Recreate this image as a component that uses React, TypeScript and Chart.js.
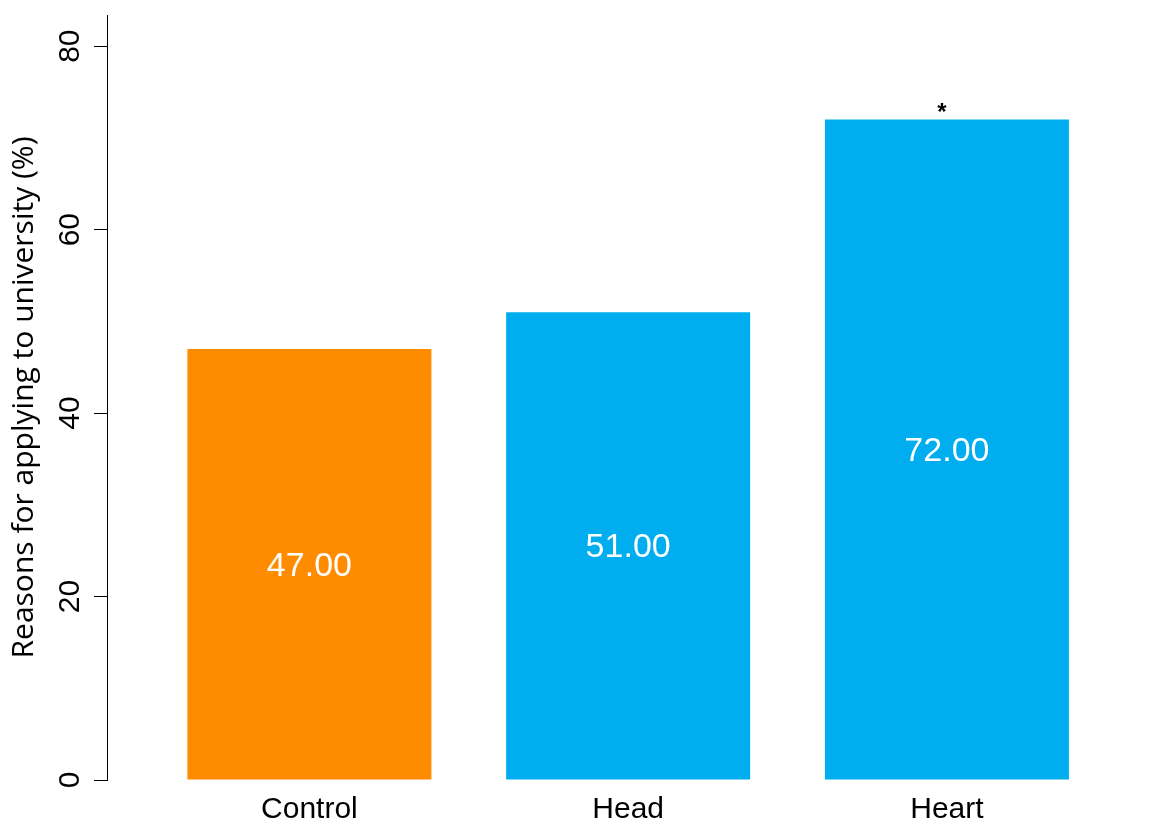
import React, { useEffect, useRef } from 'react';
import { Chart, registerables } from 'chart.js';

Chart.register(...registerables);

const categories = ['Control', 'Head', 'Heart'];
const values = [47, 51, 72];
const barColors = ['#FF8C00', '#00AEEF', '#00AEEF'];
const significance = ['', '', '*'];
const yTickValues = [0, 20, 40, 60, 80];
const yTitle = 'Reasons for applying to university (%)';

const labelPlugin = {
  id: 'barLabels',
  afterDatasetsDraw(chart: any) {
    const ctx = chart.ctx;
    const meta = chart.getDatasetMeta(0);
    ctx.save();
    meta.data.forEach((el: any, i: number) => {
      ctx.fillStyle = '#FFFFFF';
      ctx.font = '34px "Liberation Sans", Arial, sans-serif';
      ctx.textAlign = 'center';
      ctx.textBaseline = 'middle';
      ctx.fillText(values[i].toFixed(2), el.x, (el.y + el.base) / 2 + 2);
      if (significance[i]) {
        ctx.fillStyle = '#000000';
        ctx.font = 'bold 24px "Liberation Sans", Arial, sans-serif';
        ctx.textBaseline = 'alphabetic';
        ctx.fillText(significance[i], el.x - 5, el.y);
      }
    });
    ctx.restore();
  },
};

export default function App() {
  const ref = useRef<HTMLCanvasElement | null>(null);

  useEffect(() => {
    document.body.style.margin = '0';
    const canvas = ref.current;
    if (!canvas) return;
    const chart = new Chart(canvas, {
      type: 'bar',
      data: {
        datasets: [
          {
            data: values.map((v, i) => ({ x: i, y: v })),
            backgroundColor: barColors,
            borderWidth: 0,
            barPercentage: 0.7655,
            categoryPercentage: 1,
          },
        ],
      },
      options: {
        responsive: false,
        animation: false,
        layout: { padding: { top: 15, right: 11, bottom: 0, left: 0 } },
        plugins: {
          legend: { display: false },
          tooltip: { enabled: false },
        },
        scales: {
          x: {
            type: 'linear',
            offset: false,
            min: -0.635,
            max: 2.6685,
            afterBuildTicks: (axis: any) => {
              axis.ticks = categories.map((_, i) => ({ value: i }));
            },
            afterFit: (scale: any) => {
              scale.height = 51;
              scale.paddingLeft = 0;
              scale.paddingRight = 0;
            },
            ticks: {
              callback: (v: any) => categories[v] ?? '',
              color: '#000000',
              font: { family: '"Liberation Sans", Arial, sans-serif', size: 30 },
              padding: 12,
              autoSkip: false,
              maxRotation: 0,
              minRotation: 0,
            },
            grid: { display: false, drawTicks: false, offset: false },
            border: { display: false },
          },
          y: {
            min: 0,
            max: 83.4,
            afterBuildTicks: (axis: any) => {
              axis.ticks = yTickValues.map((v) => ({ value: v }));
            },
            afterFit: (scale: any) => {
              scale.width = 107;
              scale.paddingTop = 0;
              scale.paddingBottom = 0;
            },
            ticks: {
              color: '#000000',
              font: { family: '"Liberation Sans", Arial, sans-serif', size: 30 },
              minRotation: 90,
              maxRotation: 90,
              crossAlign: 'center',
              padding: 7,
              autoSkip: false,
            },
            grid: {
              drawOnChartArea: false,
              drawTicks: true,
              tickLength: 13,
              color: '#000000',
              tickWidth: 1,
            },
            border: { display: true, color: '#000000', width: 1 },
            title: {
              display: true,
              text: yTitle,
              color: '#000000',
              font: { family: '"Open Sans", Lato, sans-serif', size: 30 },
              padding: { top: 6, bottom: 0 },
            },
          },
        },
      },
      plugins: [labelPlugin],
    } as any);
    return () => chart.destroy();
  }, []);

  return (
    <div style={{ position: 'absolute', left: 0, top: 0, width: 1171, height: 831 }}>
      <canvas ref={ref} width={1171} height={831} />
    </div>
  );
}
